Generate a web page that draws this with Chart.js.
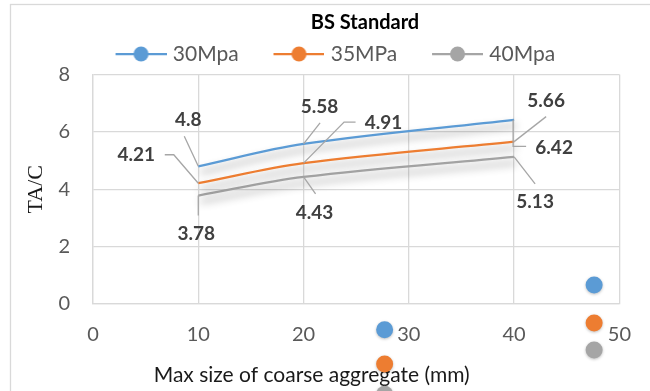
<!DOCTYPE html>
<html>
<head>
<meta charset="utf-8">
<script src="https://cdn.jsdelivr.net/npm/chart.js@4.4.1/dist/chart.umd.min.js"></script>
<style>
  html, body { margin: 0; padding: 0; background: #fff; }
  #wrap { width: 650px; height: 391px; }
</style>
</head>
<body>
<div id="wrap"><canvas id="chart" width="650" height="391"></canvas></div>
<script>
// --- data ---
const sizes = [10, 20, 40];
const mpa30 = [4.8, 5.58, 6.42];
const mpa35 = [4.21, 4.91, 5.66];
const mpa40 = [3.78, 4.43, 5.13];
const seriesNames = ['30Mpa', '35MPa', '40Mpa'];
const xTicks = [0, 10, 20, 30, 40, 50];
const yTicks = [0, 2, 4, 6, 8];

// loose markers sitting below the plot
const strayX = [27.7, 47.6];
const strayBlue = [-0.9, 0.66];
const strayOrange = [-2.09, -0.66];
const strayGray = [-3.15, -1.6];

const COLORS = ['#5b9bd5', '#ed7d31', '#a5a5a5'];
const FONT = "Lato, 'DejaVu Sans', sans-serif";
Chart.defaults.font.family = FONT;

// legend icon: short line with a dot in the middle
function legendIcon(color) {
    const c = document.createElement('canvas');
    c.width = 88; c.height = 16;
    const g = c.getContext('2d');
    g.strokeStyle = color;
    g.lineWidth = 2.25;
    g.beginPath();
    g.moveTo(37, 8);
    g.lineTo(88, 8);
    g.stroke();
    g.fillStyle = color;
    g.beginPath();
    g.arc(62.5, 8, 7.5, 0, Math.PI * 2);
    g.fill();
    return c;
}

const toPts = arr => sizes.map((x, i) => ({ x: x, y: arr[i] }));

// label placement (pixel offsets from each point) and leader lines
const labelPlace = [
    [ { dx: -10, dy: -46, path: [[0, 0], [-14, -30]] },
      { dx: 16, dy: -37, path: [[0, 0], [16.5, -21]] },
      { dx: 40, dy: 28, path: [[-1, 0], [-1, 26.5], [12, 26.5]] } ],
    [ { dx: -62, dy: -28, path: [[0, 0], [-24.5, -28.5], [-33.5, -28.5]] },
      { dx: 80, dy: -40, path: [[0, 0], [40.5, -41], [52, -41]] },
      { dx: 32, dy: -41, path: [[0, 0], [32, -25]] } ],
    [ { dx: -2, dy: 38, path: [[0, 0], [0, 20]] },
      { dx: 11, dy: 36, path: [[0, 0], [12, 17]] },
      { dx: 21, dy: 45, path: [[0, 0], [21, 27]] } ]
];

// soft shadow under the lines
const lineShadow = {
    id: 'lineShadow',
    beforeDatasetsDraw(chart) {
        const ctx = chart.ctx;
        ctx.save();
        ctx.shadowColor = 'rgba(0,0,0,0.45)';
        ctx.shadowBlur = 8;
        ctx.shadowOffsetX = 2;
        ctx.shadowOffsetY = 6;
    },
    afterDatasetsDraw(chart) {
        chart.ctx.restore();
    }
};

const extras = {
    id: 'extras',
    beforeDraw(chart) {
        const ctx = chart.ctx;
        ctx.save();
        ctx.fillStyle = '#fff';
        ctx.fillRect(0, 0, chart.width, chart.height);
        ctx.strokeStyle = '#d9d9d9';
        ctx.lineWidth = 1.3;
        ctx.strokeRect(10.5, 4.5, 700, 500);
        ctx.restore();
    },
    afterLayout(chart) {
        // title sits right of centre in the original
        chart.titleBlock.left = 104;
    },
    afterDraw(chart) {
        const ctx = chart.ctx;
        const xs = chart.scales.x, ys = chart.scales.y;

        // data labels with leader lines
        ctx.save();
        ctx.strokeStyle = '#a6a6a6';
        ctx.lineWidth = 1.3;
        ctx.fillStyle = '#404040';
        ctx.font = 'bold 19px ' + FONT;
        ctx.textAlign = 'center';
        ctx.textBaseline = 'middle';
        chart.data.datasets.forEach((ds, si) => {
            const meta = chart.getDatasetMeta(si);
            meta.data.forEach((pt, i) => {
                const p = labelPlace[si][i];
                ctx.beginPath();
                p.path.forEach((q, k) => {
                    const px = pt.x + q[0], py = pt.y + q[1];
                    if (k === 0) ctx.moveTo(px, py); else ctx.lineTo(px, py);
                });
                ctx.stroke();
                ctx.fillText(String(ds.data[i].y), pt.x + p.dx, pt.y + p.dy);
            });
        });
        ctx.restore();

        // x axis title (offset left in the original)
        ctx.save();
        ctx.fillStyle = '#1a1a1a';
        ctx.font = '21px ' + FONT;
        ctx.textAlign = 'center';
        ctx.textBaseline = 'middle';
        ctx.fillText('Max size of coarse aggregate (mm)', (xs.left + xs.right) / 2 - 44.5, 375);
        ctx.restore();

        // loose markers
        ctx.save();
        ctx.shadowColor = 'rgba(0,0,0,0.25)';
        ctx.shadowBlur = 3;
        ctx.shadowOffsetY = 1;
        [strayBlue, strayOrange, strayGray].forEach((arr, si) => {
            ctx.fillStyle = COLORS[si];
            strayX.forEach((xv, i) => {
                ctx.beginPath();
                ctx.arc(xs.getPixelForValue(xv), ys.getPixelForValue(arr[i]), 8.5, 0, Math.PI * 2);
                ctx.fill();
            });
        });
        ctx.restore();
    }
};

const seriesData = [mpa30, mpa35, mpa40];

const chart = new Chart(document.getElementById('chart'), {
    type: 'line',
    data: {
        datasets: seriesData.map((arr, i) => ({
            label: seriesNames[i],
            data: toPts(arr),
            borderColor: COLORS[i],
            backgroundColor: COLORS[i],
            borderWidth: 2.25,
            pointRadius: 0,
            pointStyle: legendIcon(COLORS[i]),
            tension: 0.35,
            fill: false
        }))
    },
    options: {
        responsive: false,
        animation: false,
        events: [],
        layout: { padding: { left: 12, right: 24, top: 0, bottom: 0 } },
        plugins: {
            title: {
                display: true,
                text: 'BS Standard',
                color: '#000',
                font: { family: FONT, size: 20, weight: 'bold' },
                padding: { top: 11, bottom: 6.5 }
            },
            legend: {
                display: true,
                labels: {
                    usePointStyle: true,
                    pointStyleWidth: 79.5,
                    boxHeight: 15,
                    padding: 2,
                    color: '#595959',
                    font: { family: FONT, size: 21 }
                }
            },
            tooltip: { enabled: false }
        },
        scales: {
            x: {
                type: 'linear',
                min: 0, max: 50,
                afterBuildTicks(s) { s.ticks = xTicks.map(v => ({ value: v })); },
                ticks: { padding: 19, color: '#595959', font: { family: FONT, size: 20 } },
                grid: { color: '#d9d9d9', lineWidth: 1.3, drawTicks: false },
                border: { color: '#d9d9d9', width: 1.3 },
                afterFit(s) { s.height = 87; }
            },
            y: {
                min: 0, max: 8,
                afterBuildTicks(s) { s.ticks = yTicks.map(v => ({ value: v })); },
                ticks: { padding: 23, color: '#595959', font: { family: FONT, size: 20 } },
                grid: { color: '#d9d9d9', lineWidth: 1.3, drawTicks: false },
                border: { color: '#d9d9d9', width: 1.3 },
                title: {
                    display: true,
                    text: 'TA/C',
                    color: '#1a1a1a',
                    font: { family: "'Liberation Serif', 'Times New Roman', serif", size: 22 },
                    padding: { top: 11.5, bottom: 0 }
                },
                afterFit(s) { s.width = 81; }
            }
        }
    },
    plugins: [lineShadow, extras]
});
</script>
</body>
</html>
